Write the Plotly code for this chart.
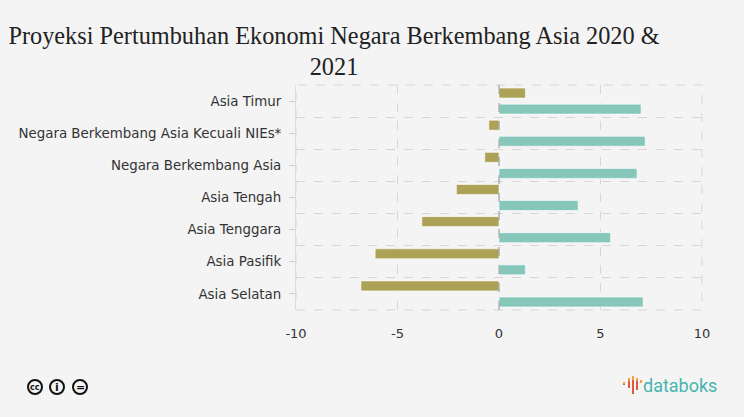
import plotly.graph_objects as go

# Proyeksi pertumbuhan ekonomi (%)
wilayah = ["Asia Timur", "Negara Berkembang Asia Kecuali NIEs*", "Negara Berkembang Asia",
           "Asia Tengah", "Asia Tenggara", "Asia Pasifik", "Asia Selatan"]
tahun_2020 = [1.3, -0.5, -0.7, -2.1, -3.8, -6.1, -6.8]
tahun_2021 = [7.0, 7.2, 6.8, 3.9, 5.5, 1.3, 7.1]
x_ticks = [-10, -5, 0, 5, 10]
x_ticktext = ["-10", "-5", "0", "5", "10"]

pos = list(range(len(wilayah)))

# area plot dalam piksel
L, R, T, B = 296, 702, 85, 310
def px(x):
    return (x - L) / (R - L)
def py(y):
    return (B - y) / (B - T)

fig = go.Figure()
fig.add_trace(go.Bar(y=pos, x=tahun_2020, orientation="h", name="2020",
                     marker=dict(color="#ada155", line=dict(color="rgba(255,255,255,0.6)", width=1))))
fig.add_trace(go.Bar(y=pos, x=tahun_2021, orientation="h", name="2021",
                     marker=dict(color="#86c7b9", line=dict(color="rgba(255,255,255,0.6)", width=1))))

# bingkai putus-putus di tepi area plot, dan garis nol
fig.add_shape(type="rect", xref="paper", yref="paper", x0=0, x1=1, y0=0, y1=1,
              line=dict(color="#d6d6d6", width=1, dash="dash"), layer="below")
fig.add_shape(type="line", xref="x", yref="paper", x0=0, x1=0, y0=0, y1=1,
              line=dict(color="#999", width=1, dash="dash"))

fig.update_layout(
    width=744, height=417,
    paper_bgcolor="#f4f4f4", plot_bgcolor="#f4f4f4",
    margin=dict(l=L, r=744 - R, t=T, b=417 - B),
    barmode="group", bargap=0.0, bargroupgap=0.38,
    showlegend=False,
    font=dict(family="DejaVu Sans", size=13, color="#333"),
    title=dict(text="Proyeksi Pertumbuhan Ekonomi Negara Berkembang Asia 2020 &<br>2021",
               x=334/744, xanchor="center", y=0.895, yanchor="top",
               font=dict(family="Liberation Serif", size=24.3, color="#222")),
)

fig.update_xaxes(range=[-10, 10], tickvals=x_ticks, ticktext=x_ticktext, showgrid=True,
                 griddash="dash", gridcolor="#d6d6d6", zeroline=False, ticks="",
                 ticklabelstandoff=14, tickfont=dict(size=13, color="#333"))
fig.update_yaxes(range=[6.5, -0.5], tickmode="array", tickvals=pos, ticktext=wilayah,
                 showgrid=False, zeroline=False, ticks="outside", ticklen=6, tickcolor="#ccc",
                 ticklabelstandoff=5, tickfont=dict(size=13.4, color="#333"),
                 showline=True, linecolor="#ddd", linewidth=1,
                 minor=dict(tickmode="linear", tick0=0.5, dtick=1, showgrid=True,
                            griddash="dash", gridcolor="#d6d6d6", ticklen=0))

# footer: ikon CC
for cx, sym in [(35, "cc"), (57, "i"), (80, "=")]:
    fig.add_shape(type="circle", xref="paper", yref="paper",
                  xsizemode="pixel", ysizemode="pixel", xanchor=px(cx), yanchor=py(387),
                  x0=-7, x1=7, y0=-7, y1=7,
                  line=dict(color="#111", width=2), fillcolor="#f4f4f4")
    fig.add_annotation(text="<b>%s</b>" % sym, xref="paper", yref="paper",
                       x=px(cx), y=py(387), xanchor="center", yanchor="middle",
                       showarrow=False, font=dict(size=8 if sym == "cc" else 11, color="#111"))

# footer: logo databoks
fig.add_annotation(text="databoks", xref="paper", yref="paper",
                   x=px(719), y=py(385), xanchor="right", yanchor="middle", showarrow=False,
                   font=dict(family="Roboto", size=18, color="#46b5ae"))
# (dx, atas oranye, batas oranye/merah, bawah)
for dx, top, mid, bot in [(0, 382, 384, 385), (5, 378, 381, 388), (9, 376, 380, 394),
                          (13, 378, 381, 390), (17, 380, 383, 383)]:
    fig.add_shape(type="line", xref="paper", yref="paper",
                  x0=px(624 + dx), x1=px(624 + dx), y0=py(top), y1=py(mid),
                  line=dict(color="#f0a040", width=2))
    if bot > mid:
        fig.add_shape(type="line", xref="paper", yref="paper",
                      x0=px(624 + dx), x1=px(624 + dx), y0=py(mid), y1=py(bot),
                      line=dict(color="#e05a40", width=2))

fig.write_html("out.html", config={"displayModeBar": False},
               post_script="document.body.style.margin='0';")
